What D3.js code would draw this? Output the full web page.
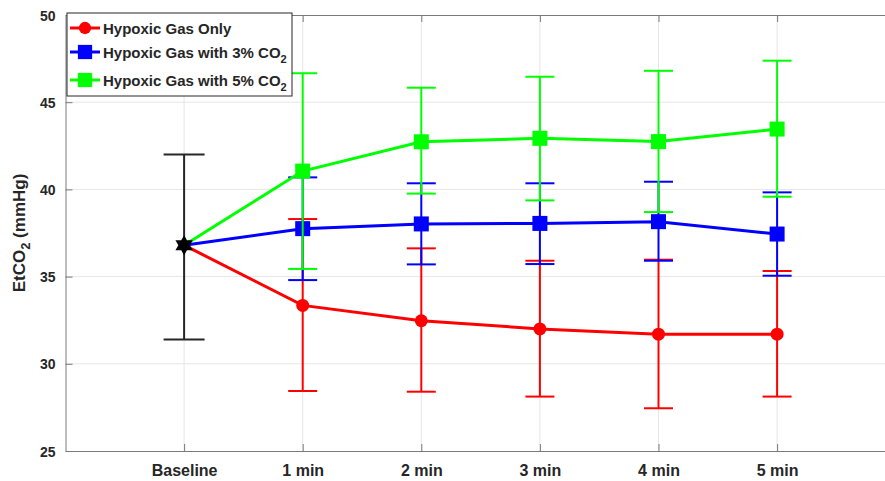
<!DOCTYPE html>
<html>
<head>
<meta charset="UTF-8">
<title>EtCO2</title>
<style>
  body { margin: 0; background: #fff; }
  text { font-family: "Liberation Sans", Arial, sans-serif; font-weight: bold; fill: #262626; }
</style>
</head>
<body>
<script src="https://cdn.jsdelivr.net/npm/d3@7"></script>
<div id="chart"></div>
<script>
    // data
    var categories = ["Baseline", "1 min", "2 min", "3 min", "4 min", "5 min"];
    var baselineMean = 36.8, baselineLo = 31.4, baselineHi = 42.0;

    var onlyMean  = [33.35, 32.47, 32.0, 31.7, 31.7];
    var onlyLo    = [28.44, 28.4, 28.12, 27.45, 28.12];
    var onlyHi    = [38.3, 36.62, 35.91, 35.97, 35.32];

    var co2_3Mean = [37.75, 38.02, 38.05, 38.15, 37.44];
    var co2_3Lo   = [34.8, 35.7, 35.72, 35.91, 35.05];
    var co2_3Hi   = [40.69, 40.35, 40.35, 40.44, 39.83];

    var co2_5Mean = [41.05, 42.73, 42.93, 42.74, 43.46];
    var co2_5Lo   = [35.44, 39.76, 39.37, 38.7, 39.58];
    var co2_5Hi   = [46.66, 45.83, 46.46, 46.8, 47.38];

    var yTicks = [25, 30, 35, 40, 45, 50];

    var outerWidth = 885, outerHeight = 481,
        plotLeft = 65.5, plotTop = 15, plotBottom = 451,
        step = 118.6;

    var series = [
        {name: "Hypoxic Gas Only", sub: null, color: "#ff0000", marker: "circle", mean: onlyMean, lo: onlyLo, hi: onlyHi},
        {name: "Hypoxic Gas with 3% CO", sub: "2", color: "#0000ff", marker: "square", mean: co2_3Mean, lo: co2_3Lo, hi: co2_3Hi},
        {name: "Hypoxic Gas with 5% CO", sub: "2", color: "#00ff00", marker: "square", mean: co2_5Mean, lo: co2_5Lo, hi: co2_5Hi}
    ];

    var svg = d3.select("#chart").append("svg")
        .attr("width", outerWidth)
        .attr("height", outerHeight);

    var x = d3.scaleLinear().domain([0, 7]).range([plotLeft, plotLeft + 7 * step]);
    var y = d3.scaleLinear().domain([25, 50]).range([plotBottom, plotTop]);
    var catIdx = categories.map(function(d, i) { return i + 1; });

    // grid
    svg.append("g")
        .selectAll("line").data(yTicks.slice(1, -1)).enter().append("line")
        .attr("x1", plotLeft).attr("x2", outerWidth)
        .attr("y1", function(d) { return y(d); }).attr("y2", function(d) { return y(d); })
        .attr("stroke", "#e6e6e6").attr("stroke-width", 1);
    svg.append("g")
        .selectAll("line").data(catIdx).enter().append("line")
        .attr("x1", function(d) { return x(d); }).attr("x2", function(d) { return x(d); })
        .attr("y1", plotTop).attr("y2", plotBottom)
        .attr("stroke", "#e6e6e6").attr("stroke-width", 1);

    // axes (ticks inside, MATLAB style)
    var xAxis = svg.append("g")
        .attr("transform", "translate(0," + plotBottom + ")")
        .call(d3.axisBottom(x).tickValues(catIdx)
            .tickFormat(function(d) { return categories[d - 1]; })
            .tickSizeInner(-7).tickSizeOuter(0).tickPadding(14));
    xAxis.selectAll("text").style("font-size", "16px").attr("fill", "#262626");

    svg.append("g")
        .attr("transform", "translate(0," + plotTop + ")")
        .call(d3.axisTop(x).tickValues(catIdx).tickFormat("")
            .tickSizeInner(-7).tickSizeOuter(0));

    var yAxis = svg.append("g")
        .attr("transform", "translate(" + plotLeft + ",0)")
        .call(d3.axisLeft(y).tickValues(yTicks)
            .tickSizeInner(-7).tickSizeOuter(0).tickPadding(10));
    yAxis.selectAll("text").style("font-size", "14px").attr("fill", "#262626").attr("dy", "0.36em");

    svg.selectAll(".domain").attr("stroke", "#7a7a7a");
    svg.selectAll(".tick line").attr("stroke", "#7a7a7a");

    // y label
    var yl = svg.append("text")
        .attr("transform", "translate(25," + ((plotTop + plotBottom) / 2) + ") rotate(-90)")
        .attr("text-anchor", "middle")
        .style("font-size", "17px");
    yl.append("tspan").text("EtCO");
    yl.append("tspan").attr("dy", 5).style("font-size", "13px").text("2");
    yl.append("tspan").attr("dy", -5).text(" (mmHg)");

    var hexagram = function(cx, cy, r) {
        var pts = [], ri = r / Math.sqrt(3);
        for (var k = 0; k < 12; k++) {
            var a = -Math.PI / 2 + k * Math.PI / 6, rr = k % 2 ? ri : r;
            pts.push([cx + rr * Math.cos(a), cy + rr * Math.sin(a)]);
        }
        return "M" + pts.join("L") + "Z";
    };

    var drawMarker = function(g, s, cx, cy, scale) {
        if (s.marker === "circle") {
            g.append("circle").attr("cx", cx).attr("cy", cy).attr("r", 6.5 * scale).attr("fill", s.color);
        } else {
            var h = 7.5 * scale;
            g.append("rect").attr("x", cx - h).attr("y", cy - h).attr("width", 2 * h).attr("height", 2 * h).attr("fill", s.color);
        }
    };

    // baseline error bar
    var capB = 20.5;
    var bg = svg.append("g").attr("stroke", "#262626").attr("stroke-width", 2);
    bg.append("line").attr("x1", x(1)).attr("x2", x(1)).attr("y1", y(baselineLo)).attr("y2", y(baselineHi));
    [baselineLo, baselineHi].forEach(function(v) {
        bg.append("line").attr("x1", x(1) - capB).attr("x2", x(1) + capB).attr("y1", y(v)).attr("y2", y(v));
    });

    var line = d3.line().x(function(d) { return x(d[0]); }).y(function(d) { return y(d[1]); });
    var cap = 14.5;

    series.forEach(function(s) {
        var g = svg.append("g");
        var pts = [[1, baselineMean]].concat(s.mean.map(function(v, i) { return [i + 2, v]; }));
        g.append("path").attr("d", line(pts)).attr("fill", "none")
            .attr("stroke", s.color).attr("stroke-width", 3);
        s.mean.forEach(function(v, i) {
            var cx = x(i + 2);
            g.append("line").attr("x1", cx).attr("x2", cx).attr("y1", y(s.lo[i])).attr("y2", y(s.hi[i]))
                .attr("stroke", s.color).attr("stroke-width", 2);
            [s.lo[i], s.hi[i]].forEach(function(e) {
                g.append("line").attr("x1", cx - cap).attr("x2", cx + cap).attr("y1", y(e)).attr("y2", y(e))
                    .attr("stroke", s.color).attr("stroke-width", 2);
            });
            drawMarker(g, s, cx, y(v), 1);
        });
    });

    // baseline marker
    svg.append("path").attr("d", hexagram(x(1), y(baselineMean), 10)).attr("fill", "#000");

    // legend
    var lg = svg.append("g");
    lg.append("rect").attr("x", 67).attr("y", 13).attr("width", 225).attr("height", 83)
        .attr("fill", "#fff").attr("stroke", "#262626").attr("stroke-width", 1);
    var legendY = [28, 52, 80];
    series.forEach(function(s, i) {
        var ly = legendY[i];
        lg.append("line").attr("x1", 70).attr("x2", 100).attr("y1", ly).attr("y2", ly)
            .attr("stroke", s.color).attr("stroke-width", 3);
        drawMarker(lg, s, 85, ly, 0.95);
        var t = lg.append("text").attr("x", 103).attr("y", ly + 5.5).style("font-size", "15px");
        t.append("tspan").text(s.name);
        if (s.sub) t.append("tspan").attr("dy", 5).style("font-size", "11px").text(s.sub);
    });
</script>
</body>
</html>
